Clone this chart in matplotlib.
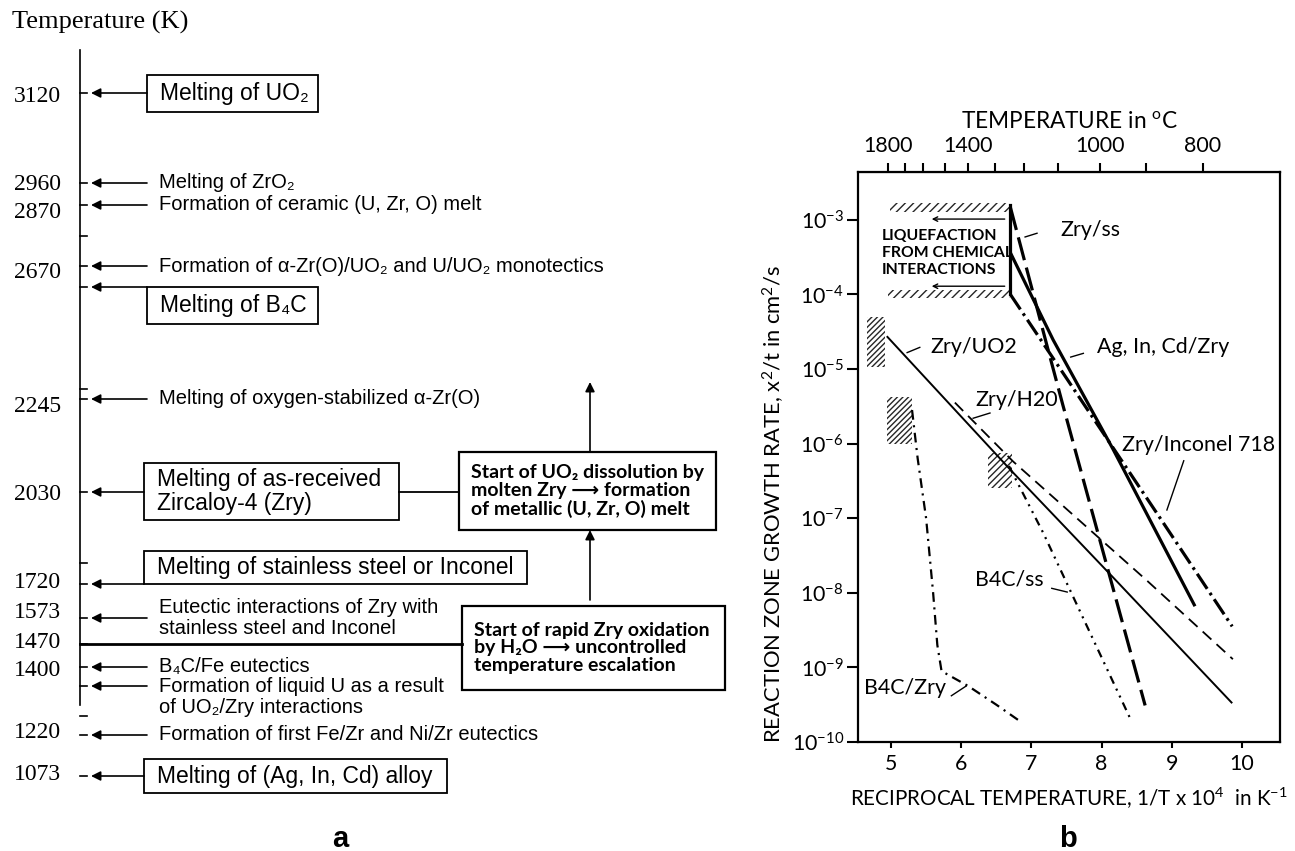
import numpy as np
import matplotlib
matplotlib.use("Agg")
import matplotlib.pyplot as plt
from matplotlib import font_manager as fm
from matplotlib.patches import Rectangle
from matplotlib.ticker import NullLocator

plt.rcParams['lines.scale_dashes'] = False
plt.rcParams['hatch.linewidth'] = 1.0
plt.rcParams['axes.unicode_minus'] = True

names = {f.name for f in fm.fontManager.ttflist}
NARROW = 'Liberation Sans Narrow' if 'Liberation Sans Narrow' in names else 'Lato'
RS = 1.0 if NARROW == 'Liberation Sans Narrow' else 0.96
SANS = ['Liberation Sans', 'DejaVu Sans']
SERIF = ['Liberation Serif', 'DejaVu Serif']
BOLD = ['Lato', 'DejaVu Sans']
RF = [NARROW, 'DejaVu Sans']

# ---------------- panel a: temperature scale (K) ----------------
temps_K = [3120, 2960, 2870, 2670, 2245, 2030, 1720, 1573, 1470, 1400, 1220, 1073]
temp_level = [97, 185, 212, 272, 406, 495, 583, 613, 642, 670, 733, 775]   # schematic position

plain_text = ["Melting of ZrO\u2082",
              "Formation of ceramic (U, Zr, O) melt",
              "Formation of \u03b1-Zr(O)/UO\u2082 and U/UO\u2082 monotectics",
              "Melting of oxygen-stabilized \u03b1-Zr(O)",
              "Eutectic interactions of Zry with\nstainless steel and Inconel",
              "B\u2084C/Fe eutectics",
              "Formation of liquid U as a result\nof UO\u2082/Zry interactions",
              "Formation of first Fe/Zr and Ni/Zr eutectics"]
plain_arrow = [183, 205, 266, 399, 618, 667, 686, 735]
plain_ty = [183, 205, 266, 399, 618, 667, 697, 735]

box_text = ["Melting of UO\u2082", "Melting of B\u2084C",
            "Melting of as-received\nZircaloy-4 (Zry)",
            "Melting of stainless steel or Inconel",
            "Melting of (Ag, In, Cd) alloy"]
box_arrow = [93, 287, 492, 584, 776]
box_rect = [(147, 75, 318, 112), (147, 287, 318, 324), (144, 463, 399, 520),
            (144, 551, 527, 584), (144, 759, 447, 793)]

step_text = ["Start of UO\u2082 dissolution by\nmolten Zry \u27f6 formation\nof metallic (U, Zr, O) melt",
             "Start of rapid Zry oxidation\nby H\u2082O \u27f6 uncontrolled\ntemperature escalation"]
step_rect = [(459, 452, 716, 530), (462, 606, 725, 690)]

extra_ticks = [236, 389, 563, 716]

# ---------------- panel b: reaction zone growth rate ----------------
curves = {
    "Zry/UO2":   ([4.94, 6.70, 8.16, 9.86], [-4.56, -6.35, -7.79, -9.48]),
    "Zry/H2O":   ([5.91, 6.74, 8.65, 9.87], [-5.45, -6.24, -7.84, -8.89]),
    "Zry/ss":    ([6.70, 7.22, 7.45, 8.62], [-2.83, -4.68, -5.49, -9.51]),
    "AgInCd":    ([6.70, 7.31, 8.16, 9.33], [-3.44, -4.61, -6.07, -8.18]),
    "Inconel":   ([6.70, 7.22, 8.87, 9.86], [-4.00, -4.73, -7.05, -8.45]),
    "B4C/ss":    ([6.68, 7.17, 8.40], [-6.30, -7.20, -9.67]),
    "B4C/Zry":   ([5.30, 5.38, 5.50, 5.60, 5.66, 5.72, 6.10, 6.50, 6.85],
                  [-5.55, -6.20, -7.00, -8.00, -8.70, -9.05, -9.25, -9.50, -9.73]),
}
styles = {
    "Zry/UO2": dict(lw=1.4, ls='-'),
    "Zry/H2O": dict(lw=1.3, ls=(0, (8.5, 5))),
    "Zry/ss":  dict(lw=2.3, ls=(0, (17, 5.5))),
    "AgInCd":  dict(lw=2.3, ls='-'),
    "Inconel": dict(lw=2.3, ls=(0, (13, 3.5, 2, 3.5))),
    "B4C/ss":  dict(lw=1.6, ls=(0, (6, 4, 1.5, 4, 1.5, 4))),
    "B4C/Zry": dict(lw=1.6, ls=(0, (7, 4, 1.5, 4))),
}

hatch_boxes = [(4.66, 4.91, -4.97, -4.30, '//////'),
               (4.94, 5.30, -6.00, -5.38, '//////'),
               (6.38, 6.72, -6.60, -6.13, '/////')]
liq_strips = [(4.99, 6.70, -2.895, -2.775), (4.96, 6.70, -4.05, -3.94)]

top_celsius = [1800, 1700, 1600, 1500, 1400, 1300, 1200, 1100, 1000, 900, 800]
top_tick_x = [4.957, 5.199, 5.456, 5.769, 6.097, 6.481, 6.895, 7.379, 7.977, 8.632, 9.444]
top_shown = [1800, 1400, 1000, 800]

labels_b = [("Zry/ss", 7.41, -3.14, [7.08, 6.91], [-3.18, -3.23]),
            ("Zry/UO2", 5.56, -4.71, [5.41, 5.23], [-4.71, -4.78]),
            ("Zry/H20", 6.20, -5.42, [6.41, 6.17], [-5.59, -5.66]),
            ("Ag, In, Cd/Zry", 7.93, -4.71, [7.74, 7.56], [-4.79, -4.84]),
            ("Zry/Inconel 718", 8.29, -6.02, [9.17, 8.93], [-6.23, -6.89]),
            ("B4C/ss", 6.20, -7.82, [7.29, 7.51], [-7.94, -7.99]),
            ("B4C/Zry", 4.61, -9.28, [5.86, 6.07], [-9.38, -9.25])]

W, H = 1295, 851
fig = plt.figure(figsize=(W / 100, H / 100), dpi=100)

# background axes in pixel units for the schematic panel
ax = fig.add_axes([0, 0, 1, 1])
ax.set_xlim(0, W)
ax.set_ylim(H, 0)
ax.axis('off')

ax.text(12, 22, "Temperature (K)", family=SERIF, fontsize=19, ha='left', va='center')
ax.plot([80, 80], [50, 705], color='k', lw=1.2)
for t, y in zip(temps_K, temp_level):
    ax.text(61, y, str(t), family=SERIF, fontsize=17, ha='right', va='center')

arrow_kw = dict(arrowstyle='-|>', lw=1.2, color='k', mutation_scale=14,
                shrinkA=0, shrinkB=0)
all_arrows = plain_arrow + box_arrow
tails = [147] * len(plain_arrow) + [r[0] for r in box_rect]
for y, x0 in zip(all_arrows, tails):
    ax.annotate('', xy=(91, y), xytext=(x0, y), arrowprops=arrow_kw)
for y in all_arrows + extra_ticks + [644]:
    ax.plot([80, 87], [y, y], color='k', lw=1.2)

for s, y in zip(plain_text, plain_ty):
    ax.text(159, y, s, family=SANS, fontsize=14.5, ha='left', va='center',
            linespacing=1.1)

for s, (x0, y0, x1, y1) in zip(box_text, box_rect):
    ax.add_patch(Rectangle((x0, y0), x1 - x0, y1 - y0, fill=False, lw=1.3, ec='k'))
    ax.text(x0 + 13, (y0 + y1) / 2, s, family=SANS, fontsize=16.5, ha='left',
            va='center', linespacing=1.05)

for s, (x0, y0, x1, y1) in zip(step_text, step_rect):
    ax.add_patch(Rectangle((x0, y0), x1 - x0, y1 - y0, fill=False, lw=1.6, ec='k'))
    ax.text(x0 + 12, (y0 + y1) / 2, s, family=BOLD, fontsize=14, weight='bold',
            ha='left', va='center', linespacing=1.05)

# connections between the boxes
ax.plot([399, 459], [492, 492], color='k', lw=1.3)
ax.plot([80, 462], [644, 644], color='k', lw=2.0)
ax.annotate('', xy=(590, 530), xytext=(590, 600), arrowprops=arrow_kw)
ax.annotate('', xy=(590, 382), xytext=(590, 452), arrowprops=arrow_kw)

ax.text(340, 847, "a", family=SANS, fontsize=21, weight='bold', ha='center', va='baseline')
ax.text(1068, 847, "b", family=SANS, fontsize=21, weight='bold', ha='center', va='baseline')

# ---------------- panel b axes ----------------
x0, x1, ytop, ybot = 858, 1280, 172, 742
axr = fig.add_axes([x0 / W, (H - ybot) / H, (x1 - x0) / W, (ybot - ytop) / H])
axr.set_yscale('log')
axr.set_xlim(4.53, 10.541)
axr.set_ylim(1e-10, 10 ** -2.359)

for key, (xs, ly) in curves.items():
    axr.plot(xs, 10 ** np.array(ly), color='k', solid_capstyle='butt',
             dash_capstyle='butt', **styles[key])

# vertical limit of the liquefaction zone
axr.plot([6.70, 6.70], [10 ** -2.80, 10 ** -4.0], color='k', lw=2.3)

for xa, xb, la, lb, h in hatch_boxes:
    axr.fill_between([xa, xb], 10 ** la, 10 ** lb, facecolor='none',
                     edgecolor='0.15', hatch=h, linewidth=0)
for xa, xb, la, lb in liq_strips:
    axr.fill_between([xa, xb], 10 ** la, 10 ** lb, facecolor='none',
                     edgecolor='0.15', hatch='////', linewidth=0)

small_arrow = dict(arrowstyle='->', lw=1.0, color='k', mutation_scale=8,
                   shrinkA=0, shrinkB=0)
for ly in [-2.99, -3.89]:
    axr.annotate('', xy=(5.58, 10 ** ly), xytext=(6.62, 10 ** ly), arrowprops=small_arrow)
axr.text(4.87, 10 ** -3.445, "LIQUEFACTION\nFROM CHEMICAL\nINTERACTIONS", family=RF,
         fontsize=11.8 * RS, weight='bold', ha='left', va='center', linespacing=1.3)

for s, tx, ty, px, py in labels_b:
    axr.text(tx, 10 ** ty, s, family=RF, fontsize=16 * RS, ha='left', va='center')
    axr.plot(px, 10 ** np.array(py), color='k', lw=1.0)

axr.set_xticks([5, 6, 7, 8, 9, 10])
axr.set_yticks([10.0 ** k for k in range(-10, -2)])
axr.set_yticklabels([r'$\mathregular{10^{%d}}$' % k for k in range(-10, -2)])
axr.yaxis.set_minor_locator(NullLocator())
for lab in axr.get_xticklabels() + axr.get_yticklabels():
    lab.set_family(RF)
    lab.set_fontsize(16 * RS)
axr.tick_params(axis='y', direction='out', length=8, width=1.5, pad=2)
axr.tick_params(axis='x', direction='out', length=4.5, width=1.5, pad=4)
for sp in axr.spines.values():
    sp.set_linewidth(1.6)

sec = axr.secondary_xaxis('top')
sec.set_xticks(top_tick_x, [str(c) if c in top_shown else '' for c in top_celsius])
sec.tick_params(direction='out', length=6.5, width=1.5, pad=5)
for lab in sec.get_xticklabels():
    lab.set_family(RF)
    lab.set_fontsize(16 * RS)
sec.set_xlabel(r'TEMPERATURE in $\mathregular{^o}$C', family=RF, fontsize=17 * RS, labelpad=6)

axr.set_xlabel(r'RECIPROCAL TEMPERATURE, 1/T x $\mathregular{10^4}$  in $\mathregular{K^{-1}}$',
               family=RF, fontsize=15.5 * RS, labelpad=9)
axr.set_ylabel(r'REACTION ZONE GROWTH RATE, $\mathregular{x^2/t}$ in $\mathregular{cm^2/s}$',
               family=RF, fontsize=16.5 * RS)
axr.yaxis.set_label_coords(-0.168, 0.418)

fig.savefig("out.png", dpi=100)
